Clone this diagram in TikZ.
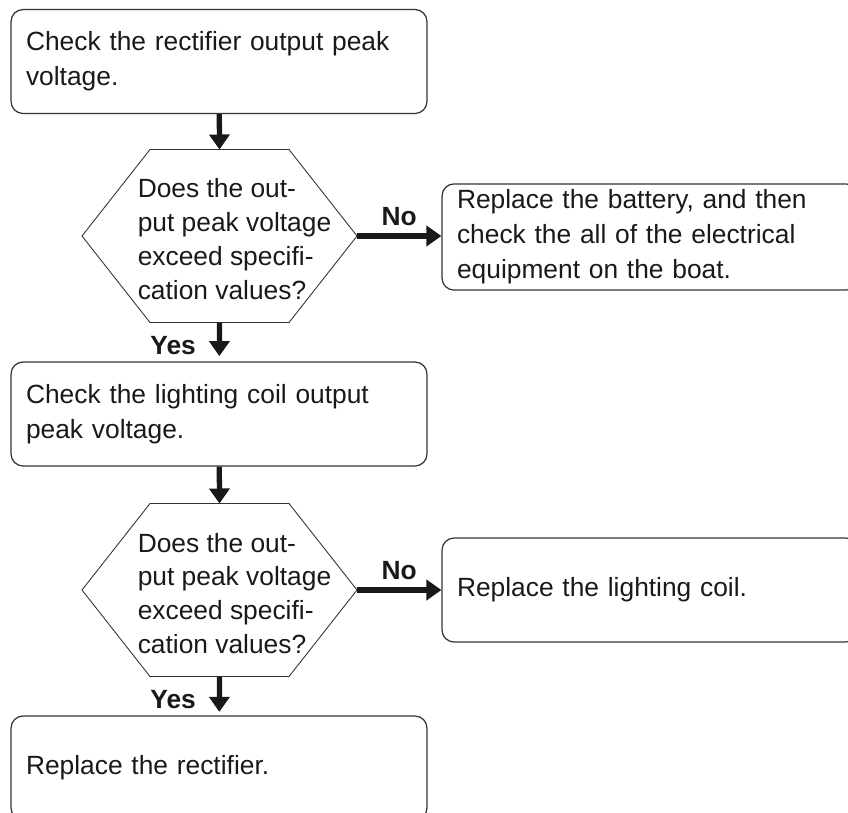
\documentclass[tikz,border=0pt]{standalone}
\usepackage{fontspec}
\setmainfont{Liberation Sans}
\usetikzlibrary{arrows.meta,calc}

\tikzset{
  stepbox/.style={draw=black!80, line width=0.7pt, rounded corners=0.24cm,
    minimum width=8.32cm, minimum height=2.08cm, text width=7.72cm,
    inner xsep=0.3cm, align=left, text=black!90,
    font=\fontsize{15pt}{19.9pt}\selectfont},
  asktext/.style={align=left, inner sep=0pt, text=black!90,
    font=\fontsize{15pt}{19.3pt}\selectfont},
  hexline/.style={draw=black!80, line width=0.5pt},
  flow/.style={line width=3pt, black!90, -{Triangle[length=0.3cm,width=0.4cm]}},
  answer/.style={font=\fontsize{15pt}{18pt}\selectfont\bfseries, text=black!90}
}

% hexagon round a coordinate, with anchors name-n, name-s, name-e
\newcommand{\askhex}[1]{
  \draw[hexline] ($(#1)+(-137.5,0)$) -- ($(#1)+(-69.5,-86.5)$) -- ($(#1)+(69.5,-86.5)$)
    -- ($(#1)+(137.5,0)$) -- ($(#1)+(69.5,86.5)$) -- ($(#1)+(-69.5,86.5)$) -- cycle;
  \coordinate (#1-n) at ($(#1)+(0,-86.5)$);
  \coordinate (#1-s) at ($(#1)+(0,86.5)$);
  \coordinate (#1-e) at ($(#1)+(137.5,0)$);
}

\begin{document}
\begin{tikzpicture}[x=0.02cm, y=-0.02cm]
    \useasboundingbox (0,0) rectangle (848,812);
    \clip (0,0) rectangle (848,812);

    \node[stepbox] (rectcheck) at (219,61.5) {Check the rectifier output peak\\voltage.};
    \coordinate (ask1) at (219.5,236);
    \askhex{ask1}
    \node[asktext] (ask1txt) at (234.5,239) {Does the out-\\put peak voltage\\exceed specifi-\\cation values?};
    \node[stepbox] (battery) at (650,237) {Replace the battery, and then\\check the all of the electrical\\equipment on the boat.};

    \node[stepbox] (coilcheck) at (219,414) {Check the lighting coil output\\peak voltage.};
    \coordinate (ask2) at (219.5,590);
    \askhex{ask2}
    \node[asktext] (ask2txt) at (234.5,593.5) {Does the out-\\put peak voltage\\exceed specifi-\\cation values?};
    \node[stepbox] (coilswap) at (650,590) {Replace the lighting coil.};

    \node[stepbox] (rectswap) at (219,768) {Replace the rectifier.};

    \draw[flow] (rectcheck) -- (ask1-n);
    \draw[flow] (ask1-e) -- (ask1-e -| battery.west) node[answer, midway, above=0.04cm] {No};
    \draw[flow, shorten >=3pt] (ask1-s) -- (coilcheck) node[answer, pos=0.6, left=0.3cm] {Yes};

    \draw[flow] (coilcheck) -- (ask2-n);
    \draw[flow] (ask2-e) -- (ask2-e -| coilswap.west) node[answer, midway, above=0.04cm] {No};
    \draw[flow, shorten >=2pt] (ask2-s) -- (rectswap) node[answer, pos=0.6, left=0.3cm] {Yes};
\end{tikzpicture}
\end{document}
